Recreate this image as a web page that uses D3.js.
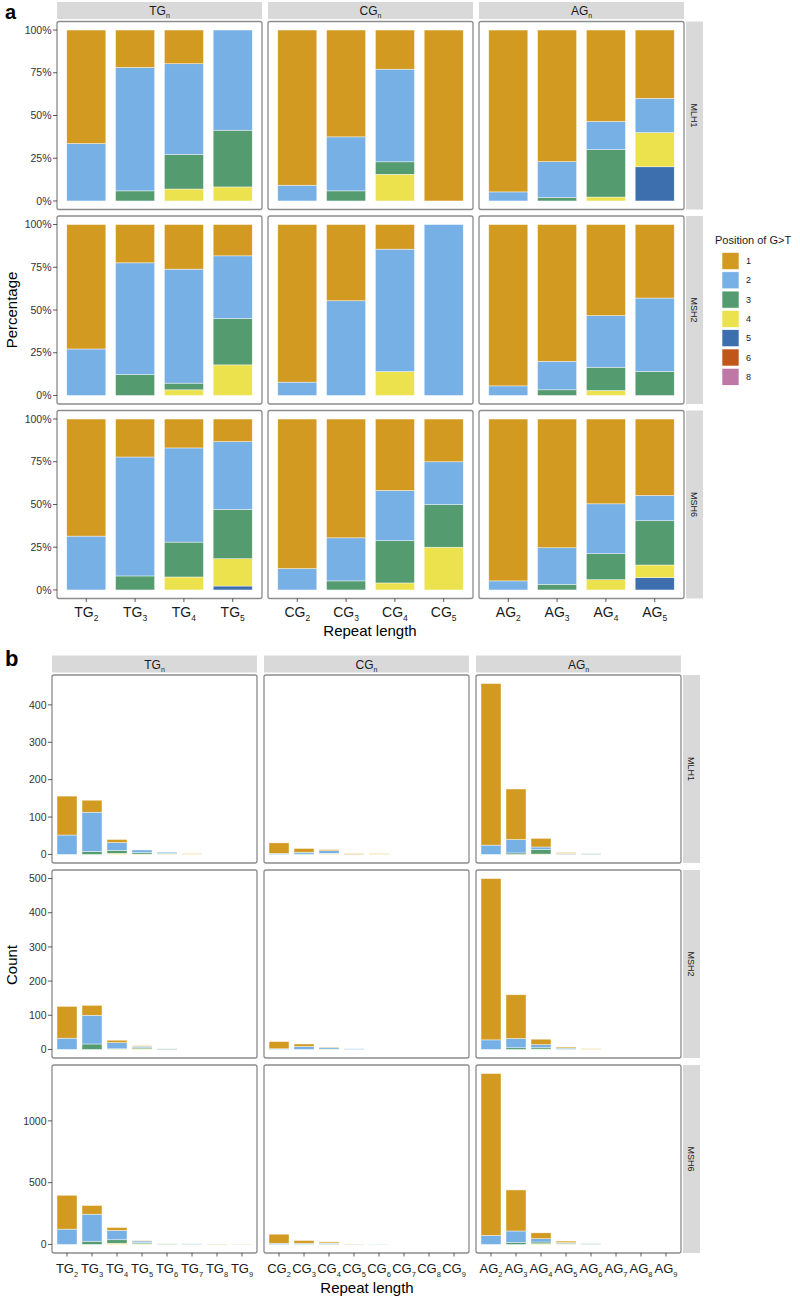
<!DOCTYPE html>
<html><head><meta charset="utf-8">
<script src="https://cdn.jsdelivr.net/npm/d3@7"></script>
<style>body{margin:0;background:#fff}svg{display:block}</style>
</head><body>
<svg id="chart" width="800" height="1301"></svg>
<script>
// ---------------- DATA ----------------
const positions = ["1","2","3","4","5","6","8"];
const posColors = ["#D39A21","#77B0E5","#559B70","#ECE24E","#3D6EAE","#C0561A","#BF78A6"];
const motifs = ["TG","CG","AG"];
const genes = ["MLH1","MSH2","MSH6"];
const lengthsA = [2,3,4,5];
const lengthsB = [2,3,4,5,6,7,8,9];
const pctTicks = [0,25,50,75,100];
const pctTickLabels = ["0%","25%","50%","75%","100%"];
const countTicks = [[0,100,200,300,400],[0,100,200,300,400,500],[0,500,1000]];

// Panel a: percentage per position (1,2,3,4,5,6,8); rows = TG2..TG5, CG2..CG5, AG2..AG5
const pctMLH1 = [
  [66.4,33.6,0,0,0,0,0],[21.9,72.2,5.9,0,0,0,0],[19.7,53.0,20.3,7.0,0,0,0],[0,58.6,33.2,8.2,0,0,0],
  [90.8,9.2,0,0,0,0,0],[62.5,31.6,5.9,0,0,0,0],[22.9,54.2,7.3,15.6,0,0,0],[100,0,0,0,0,0,0],
  [94.7,5.3,0,0,0,0,0],[77,21,2,0,0,0,0],[53.5,16.5,27.7,2.3,0,0,0],[40,20,0,20,20,0,0]
];
const pctMSH2 = [
  [72.8,27.2,0,0,0,0,0],[22.4,65.3,12.3,0,0,0,0],[26.1,66.7,3.9,3.3,0,0,0],[18.3,36.6,27.2,17.9,0,0,0],
  [92.2,7.8,0,0,0,0,0],[44.6,55.4,0,0,0,0,0],[14.4,71.6,0,14,0,0,0],[0,100,0,0,0,0,0],
  [94.4,5.6,0,0,0,0,0],[80,16.7,3.3,0,0,0,0],[53.3,30.2,13.6,2.9,0,0,0],[43,43,14,0,0,0,0]
];
const pctMSH6 = [
  [68.5,31.5,0,0,0,0,0],[22.2,69.6,8.2,0,0,0,0],[16.9,55.1,20.4,7.6,0,0,0],[13.2,39.7,28.8,16,2.3,0,0],
  [87.5,12.5,0,0,0,0,0],[69.5,25.2,5.3,0,0,0,0],[41.8,29.4,24.7,4.1,0,0,0],[25,25,25,25,0,0,0],
  [94.7,5.3,0,0,0,0,0],[75.3,21.4,3.3,0,0,0,0],[49.6,29.2,15.2,6,0,0,0],[44.7,14.8,25.9,7.4,7.2,0,0]
];
// Panel b: counts per position; rows = TG2..TG9, CG2..CG9, AG2..AG9
const countMLH1 = [
  [104,52,0,0,0,0,0],[32,105,8,0,0,0,0],[8,21,8,3,0,0,0],[0,7,4,1,0,0,0],[0,3,2,1,0,0,0],[1,0,0,1,0,0,0],[0,0,0,0,0,0,0],[0,0,0,0,0,0,0],
  [28,3,0,0,0,0,0],[10,5,1,0,0,0,0],[3,7,1,2,0,0,0],[2,0,0,0,0,0,0],[1,0,0,1,0,0,0],[0,0,0,0,0,0,0],[0,0,0,0,0,0,0],[0,0,0,0,0,0,0],
  [432,25,0,0,0,0,0],[135,36,4,0,0,0,0],[23,7,12,1,0,0,0],[2,1,0,1,1,0,0],[0,1,1,0,0,0,0],[0,0,0,0,0,0,0],[0,0,0,0,0,0,0],[0,0,0,0,0,0,0]
];
const countMSH2 = [
  [93,33,0,0,0,0,0],[29,84,16,0,0,0,0],[7,18,1,1,0,0,0],[2,4,3,2,0,0,0],[0,1,2,0,0,0,0],[0,0,0,0,0,0,0],[0,0,0,0,0,0,0],[0,0,0,0,0,0,0],
  [21,2,0,0,0,0,0],[7,9,0,0,0,0,0],[1,5,0,1,0,0,0],[0,2,0,0,0,0,0],[0,0,0,0,0,0,0],[0,0,0,0,0,0,0],[0,0,0,0,0,0,0],[0,0,0,0,0,0,0],
  [472,28,0,0,0,0,0],[128,27,5,0,0,0,0],[16,9,4,1,0,0,0],[3,3,1,0,0,0,0],[1,0,0,1,0,0,0],[0,0,0,0,0,0,0],[0,0,0,0,0,0,0],[0,0,0,0,0,0,0]
];
const countMSH6 = [
  [274,124,0,0,0,0,0],[70,219,26,0,0,0,0],[23,76,28,10,0,0,0],[4,13,9,5,1,0,0],[0,2,4,2,0,0,0],[0,3,2,0,0,0,0],[2,0,0,1,0,0,0],[1,0,0,0,0,1,0],
  [73,10,0,0,0,0,0],[22,8,2,0,0,0,0],[9,6,5,1,0,0,0],[1,1,1,1,0,0,0],[0,1,1,0,0,0,0],[0,0,0,0,0,0,0],[0,0,0,0,0,0,0],[0,0,0,0,0,0,0],
  [1310,73,0,0,0,0,0],[332,94,15,0,0,0,0],[47,27,14,6,0,0,0],[12,4,7,2,2,0,0],[0,2,3,1,0,0,0],[0,0,0,0,0,0,0],[0,0,0,0,0,0,0],[0,0,0,0,0,0,0]
];

const pctData = [pctMLH1, pctMSH2, pctMSH6];
const countData = [countMLH1, countMSH2, countMSH6];

// ---------------- DRAW ----------------
const svg = d3.select("#chart");
const FONT = "'Liberation Sans', Arial, Helvetica, sans-serif";
svg.attr("font-family", FONT);
const color = d3.scaleOrdinal().domain(positions).range(posColors);

function subText(sel, main, sub, subSize, subDy) {
  sel.append("tspan").text(main);
  sel.append("tspan").attr("font-size", subSize).attr("dy", subDy).text(sub);
}

function drawBlock(cfg) {
  const {left, panelW, colGap, top, panelH, rowGap, lengths, data, yDomain, yTicks, yFmt, xFont, xLabelBase, subXSize, subXDy} = cfg;
  const g = svg.append("g");
  motifs.forEach((m, ci) => {
    const x0 = left + ci * (panelW + colGap);
    g.append("rect").attr("x", x0).attr("y", top - 19.5).attr("width", panelW).attr("height", 17).attr("fill", "#D9D9D9");
    const st = g.append("text").attr("x", x0 + panelW / 2).attr("y", top - 6.5).attr("text-anchor", "middle")
      .attr("font-size", 12).attr("fill", "#1A1A1A");
    subText(st, m, "n", 7, 3);
    const x = d3.scaleBand().domain(lengths.map(String)).range([x0, x0 + panelW]).paddingInner(0.2).paddingOuter(0.2);
    genes.forEach((gn, ri) => {
      const y0 = top + ri * (panelH + rowGap);
      const rows = data[ri].slice(ci * lengths.length, (ci + 1) * lengths.length);
      const [lo, hi] = yDomain[ri];
      const y = d3.scaleLinear().domain([lo, hi]).range([y0 + panelH, y0]);
      const segs = [];
      rows.forEach((vals, li) => {
        let acc = 0;
        for (let k = positions.length - 1; k >= 0; k--) {
          const v = vals[k];
          if (v > 0) segs.push({len: String(lengths[li]), pos: positions[k], y0: acc, y1: acc + v});
          acc += v;
        }
      });
      g.append("g").selectAll("rect").data(segs).join("rect")
        .attr("x", d => x(d.len)).attr("width", x.bandwidth())
        .attr("y", d => y(d.y1)).attr("height", d => y(d.y0) - y(d.y1))
        .attr("fill", d => color(d.pos)).attr("stroke", "#fff").attr("stroke-width", 0.6).attr("stroke-opacity", 0.7);
      g.append("rect").attr("x", x0).attr("y", y0).attr("width", panelW).attr("height", panelH)
        .attr("rx", 2).attr("fill", "none").attr("stroke", "#8C8C8C").attr("stroke-width", 1.3);
      if (ci === 0) {
        const ya = g.append("g");
        yTicks[ri].forEach((t, ti) => {
          ya.append("line").attr("x1", x0 - 4).attr("x2", x0).attr("y1", y(t)).attr("y2", y(t)).attr("stroke", "#333").attr("stroke-width", 0.8);
          ya.append("text").attr("x", x0 - 5.5).attr("y", y(t)).attr("dy", "0.35em").attr("text-anchor", "end")
            .attr("font-size", 10.5).attr("fill", "#333").text(yFmt(t, ti));
        });
      }
      if (ci === motifs.length - 1) {
        const sx = x0 + panelW + 2;
        g.append("rect").attr("x", sx).attr("y", y0).attr("width", 17).attr("height", panelH).attr("fill", "#D9D9D9");
        g.append("text").attr("transform", `translate(${sx + 8.5},${y0 + panelH / 2}) rotate(90)`)
          .attr("text-anchor", "middle").attr("dy", "0.35em").attr("font-size", 9).attr("fill", "#1A1A1A").text(gn);
      }
      if (ri === genes.length - 1) {
        const yb = y0 + panelH;
        lengths.forEach(L => {
          const cx = x(String(L)) + x.bandwidth() / 2;
          g.append("line").attr("x1", cx).attr("x2", cx).attr("y1", yb).attr("y2", yb + 3.5).attr("stroke", "#333").attr("stroke-width", 0.8);
          const t = g.append("text").attr("x", cx).attr("y", xLabelBase).attr("text-anchor", "middle")
            .attr("font-size", xFont).attr("fill", "#1A1A1A");
          subText(t, m, String(L), subXSize, subXDy);
        });
      }
    });
  });
}

// Panel a
drawBlock({
  left: 57, panelW: 205, colGap: 6, top: 21.5, panelH: 188, rowGap: 6.5,
  lengths: lengthsA, data: pctData,
  yDomain: [[-5,105],[-5,105],[-5,105]],
  yTicks: [pctTicks, pctTicks, pctTicks], yFmt: (t, i) => pctTickLabels[i],
  xFont: 14, xLabelBase: 617, subXSize: 8.5, subXDy: 4
});
// Panel b
const maxTotals = countData.map(rows => d3.max(rows, r => d3.sum(r)));
drawBlock({
  left: 52, panelW: 205, colGap: 7, top: 675, panelH: 188, rowGap: 7,
  lengths: lengthsB, data: countData,
  yDomain: maxTotals.map(m => [-0.05 * m, 1.05 * m]),
  yTicks: countTicks, yFmt: t => String(t),
  xFont: 13, xLabelBase: 1273, subXSize: 7.5, subXDy: 3.5
});

// titles
svg.append("text").attr("x", 5).attr("y", 18.5).attr("font-size", 20).attr("font-weight", "bold").text("a");
svg.append("text").attr("x", 5).attr("y", 666).attr("font-size", 22).attr("font-weight", "bold").text("b");
svg.append("text").attr("x", 370).attr("y", 636).attr("text-anchor", "middle").attr("font-size", 15).text("Repeat length");
svg.append("text").attr("x", 367).attr("y", 1293).attr("text-anchor", "middle").attr("font-size", 15).text("Repeat length");
svg.append("text").attr("transform", "translate(17,310) rotate(-90)").attr("text-anchor", "middle").attr("font-size", 15).text("Percentage");
svg.append("text").attr("transform", "translate(17,965) rotate(-90)").attr("text-anchor", "middle").attr("font-size", 15).text("Count");

// legend
const lg = svg.append("g").attr("transform", "translate(715,0)");
lg.append("text").attr("x", 0).attr("y", 244).attr("font-size", 11).attr("fill", "#1A1A1A").text("Position of G>T");
positions.forEach((p, i) => {
  const yy = 252.5 + i * 19.3;
  lg.append("rect").attr("x", 7).attr("y", yy).attr("width", 17).attr("height", 17).attr("fill", color(p))
    .attr("stroke", "#fff").attr("stroke-width", 0.6);
  lg.append("text").attr("x", 31).attr("y", yy + 8.5).attr("dy", "0.35em").attr("font-size", 9).attr("fill", "#1A1A1A").text(p);
});
</script>
</body></html>
